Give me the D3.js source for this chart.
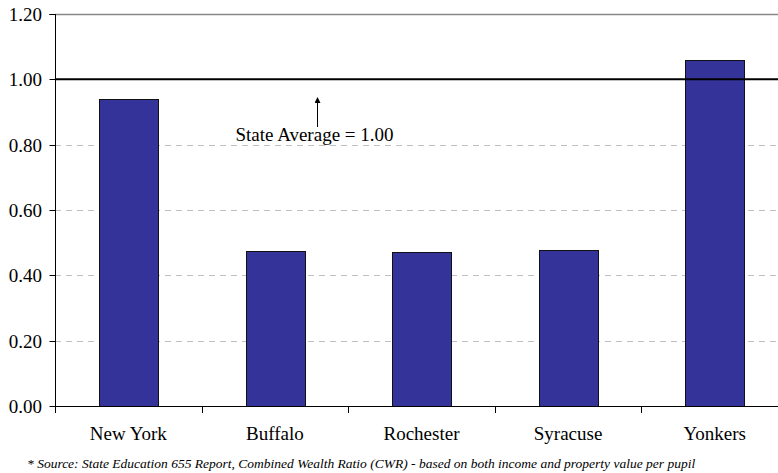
<!DOCTYPE html>
<html><head><meta charset="utf-8">
<script src="https://cdn.jsdelivr.net/npm/d3@7"></script>
</head><body style="margin:0">
<svg id="c" width="778" height="473"></svg>
<script>
const categories = ["New York", "Buffalo", "Rochester", "Syracuse", "Yonkers"];
const values = [0.94, 0.476, 0.471, 0.479, 1.06];
const yTicks = [0, 0.2, 0.4, 0.6, 0.8, 1.0, 1.2];
const stateAverage = 1.0;
const annotation = "State Average = 1.00";
const footnote = "* Source: State Education 655 Report, Combined Wealth Ratio (CWR) - based on both income and property value per pupil";

const FF = '"Nimbus Roman", Tinos, "Liberation Serif", "Times New Roman"';
const svg = d3.select("#c");
const L = 55, R = 788, T = 14, B = 406;

const x = d3.scaleBand().domain(categories).range([L, R]).paddingInner(0.6).paddingOuter(0.3);
const xb = d3.scaleBand().domain(categories).range([L, R]);
const y = d3.scaleLinear().domain([0, 1.2]).range([B, T]);

// gridlines
svg.append("g").selectAll("line").data(yTicks.filter(v => v > 0 && v < 1.0))
  .join("line").attr("x1", L).attr("x2", R)
  .attr("y1", d => Math.round(y(d)) + 0.5).attr("y2", d => Math.round(y(d)) + 0.5)
  .attr("stroke", "#c0c0c0").attr("stroke-dasharray", "6,5");
svg.append("line").attr("x1", L).attr("x2", R)
  .attr("y1", Math.round(y(1.2)) + 0.5).attr("y2", Math.round(y(1.2)) + 0.5)
  .attr("stroke", "#888").attr("stroke-width", 1.5);

// bars
svg.append("g").selectAll("rect").data(values).join("rect")
  .attr("x", (d, i) => Math.round(x(categories[i])) + 0.5)
  .attr("y", d => Math.round(y(d)) + 0.5)
  .attr("width", Math.round(x.bandwidth()))
  .attr("height", d => Math.round(y(0)) - Math.round(y(d)))
  .attr("fill", "#333399").attr("stroke", "#111").attr("stroke-width", 1);

// state average line
svg.append("line").attr("x1", L).attr("x2", R)
  .attr("y1", y(stateAverage)).attr("y2", y(stateAverage))
  .attr("stroke", "#000").attr("stroke-width", 2);

// y axis
svg.append("path").attr("d", `M${L - 5.5},${T + 0.5}H${L + 0.5}V${B}`).attr("fill", "none").attr("stroke", "#000");
svg.selectAll("line.yt").data(yTicks).join("line").attr("class", "yt")
  .attr("x1", L - 5.5).attr("x2", L + 0.5)
  .attr("y1", d => Math.round(y(d)) + 0.5).attr("y2", d => Math.round(y(d)) + 0.5).attr("stroke", "#000");
svg.selectAll("text.yl").data(yTicks).join("text").attr("class", "yl")
  .attr("x", L - 13).attr("y", d => Math.round(y(d)) + 7).attr("text-anchor", "end")
  .style("font-family", FF).style("font-size", "19px").text(d => d3.format(".2f")(d));

// x axis
svg.append("line").attr("x1", L).attr("x2", R).attr("y1", B + 0.5).attr("y2", B + 0.5).attr("stroke", "#000");
svg.selectAll("line.xt").data(categories.concat(["_end"])).join("line").attr("class", "xt")
  .attr("x1", (d, i) => Math.round(L + i * xb.step()) + 0.5)
  .attr("x2", (d, i) => Math.round(L + i * xb.step()) + 0.5)
  .attr("y1", B).attr("y2", B + 7).attr("stroke", "#000");
svg.selectAll("text.xl").data(categories).join("text").attr("class", "xl")
  .attr("x", d => xb(d) + xb.bandwidth() / 2).attr("y", B + 34)
  .attr("text-anchor", "middle").style("font-family", FF).style("font-size", "19px")
  .text(d => d);

// annotation
const ax = 317;
svg.append("defs").append("marker").attr("id", "ah").attr("viewBox", "0 0 10 10")
  .attr("refX", 5).attr("refY", 5).attr("markerWidth", 6).attr("markerHeight", 6).attr("orient", "auto")
  .append("path").attr("d", "M0,0L10,5L0,10z").attr("fill", "#000");
svg.append("line").attr("x1", ax + 0.5).attr("x2", ax + 0.5).attr("y1", 127).attr("y2", 100)
  .attr("stroke", "#000").attr("stroke-width", 1).attr("marker-end", "url(#ah)");
svg.append("text").attr("x", 314.5).attr("y", 141).attr("text-anchor", "middle")
  .style("font-family", FF).style("font-size", "19px").text(annotation);

// footnote
svg.append("text").attr("x", 27).attr("y", 468).style("font-family", FF).style("font-size", "13.5px")
  .style("font-style", "italic").text(footnote);
</script>
</body></html>
